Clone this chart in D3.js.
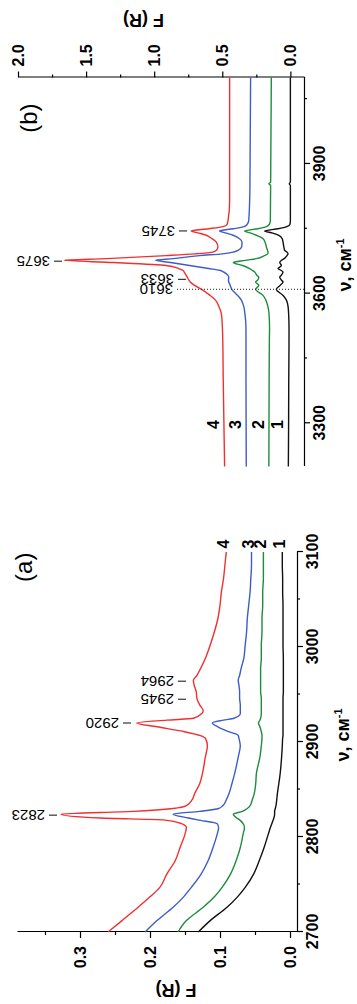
<!DOCTYPE html>
<html>
<head>
<meta charset="utf-8">
<script src="https://cdn.jsdelivr.net/npm/d3@7"></script>
<style>
body { margin: 0; background: #fff; }
svg { display: block; }
text { font-family: "Liberation Sans", Arial, sans-serif; }
</style>
</head>
<body>
<svg id="chart"></svg>
<script>
// panel (a): C-H region
const nuA = [2700, 2712, 2726, 2737, 2747, 2761, 2775, 2789, 2803, 2810, 2814, 2818, 2820, 2824, 2827, 2830,
    2833, 2839, 2846, 2856, 2867, 2884, 2896, 2904, 2907, 2911, 2916, 2920, 2923, 2925, 2930, 2933, 2939,
    2946, 2953, 2960, 2965, 2970, 2977, 2988, 3002, 3016, 3030, 3044, 3058, 3072, 3086, 3100];
const fA1 = [0.131, 0.114, 0.090, 0.075, 0.064, 0.052, 0.044, 0.037, 0.031, 0.028, 0.026, 0.024, 0.023, 0.022, 0.022, 0.021,
    0.020, 0.019, 0.018, 0.016, 0.014, 0.012, 0.011, 0.0105, 0.010, 0.010, 0.010, 0.010, 0.010, 0.010, 0.010, 0.010, 0.010,
    0.010, 0.0095, 0.0095, 0.0095, 0.0095, 0.0095, 0.0095, 0.010, 0.010, 0.010, 0.010, 0.0105, 0.0105, 0.011, 0.011];
const fA2 = [0.160, 0.148, 0.124, 0.108, 0.097, 0.085, 0.077, 0.071, 0.067, 0.065, 0.067, 0.072, 0.076, 0.081, 0.068, 0.061,
    0.057, 0.054, 0.051, 0.049, 0.048, 0.043, 0.041, 0.040, 0.040, 0.041, 0.043, 0.045, 0.043, 0.042, 0.041, 0.041, 0.041,
    0.041, 0.042, 0.042, 0.042, 0.042, 0.042, 0.041, 0.041, 0.040, 0.040, 0.039, 0.039, 0.038, 0.038, 0.038];
const fA3 = [0.207, 0.190, 0.167, 0.152, 0.141, 0.127, 0.117, 0.110, 0.104, 0.102, 0.104, 0.132, 0.145, 0.167, 0.129, 0.102,
    0.096, 0.091, 0.087, 0.083, 0.079, 0.074, 0.071, 0.073, 0.074, 0.088, 0.103, 0.111, 0.095, 0.080, 0.071, 0.071, 0.071,
    0.072, 0.072, 0.073, 0.074, 0.072, 0.070, 0.066, 0.064, 0.062, 0.061, 0.059, 0.057, 0.056, 0.055, 0.055];
const fA4 = [0.260, 0.240, 0.217, 0.200, 0.186, 0.176, 0.164, 0.157, 0.150, 0.148, 0.155, 0.181, 0.271, 0.327, 0.224, 0.167,
    0.148, 0.140, 0.136, 0.129, 0.125, 0.121, 0.118, 0.121, 0.129, 0.152, 0.190, 0.219, 0.176, 0.138, 0.126, 0.124, 0.129,
    0.133, 0.134, 0.137, 0.138, 0.133, 0.128, 0.121, 0.114, 0.108, 0.103, 0.100, 0.098, 0.095, 0.093, 0.091];

// panel (b): O-H region
const nuB = [3200, 3300, 3400, 3500, 3520, 3554, 3570, 3585, 3596, 3610, 3619, 3627, 3631, 3638, 3642, 3650, 3654, 3658,
    3665, 3672, 3677, 3681, 3688, 3692, 3696, 3700, 3708, 3719, 3727, 3735, 3740, 3745, 3750, 3755, 3760, 3769, 3815,
    3850, 3854, 3858, 3900, 4000, 4100];
const fB1 = [0.015, 0.013, 0.012, 0.010, 0.010, 0.013, 0.017, 0.029, 0.055, 0.103, 0.075, 0.054, 0.065, 0.078, 0.068, 0.054, 0.070, 0.091,
    0.066, 0.078, 0.065, 0.045, 0.025, 0.017, 0.025, 0.042, 0.048, 0.054, 0.060, 0.085, 0.130, 0.189, 0.090, 0.025, 0.003, 0.000, 0.000,
    0.000, 0.008, 0.000, 0.000, 0.000, 0.000];
const fB2 = [0.158, 0.157, 0.156, 0.154, 0.153, 0.157, 0.165, 0.180, 0.201, 0.255, 0.232, 0.255, 0.240, 0.232, 0.245, 0.262, 0.280, 0.300,
    0.350, 0.420, 0.330, 0.250, 0.190, 0.166, 0.164, 0.168, 0.176, 0.186, 0.200, 0.250, 0.290, 0.336, 0.240, 0.176, 0.155, 0.147, 0.146,
    0.145, 0.158, 0.145, 0.144, 0.142, 0.140];
const fB3 = [0.324, 0.325, 0.326, 0.326, 0.326, 0.334, 0.342, 0.360, 0.388, 0.430, 0.442, 0.452, 0.455, 0.452, 0.458, 0.490, 0.520, 0.600,
    0.740, 0.880, 0.990, 0.860, 0.667, 0.500, 0.420, 0.385, 0.358, 0.355, 0.373, 0.420, 0.470, 0.520, 0.420, 0.340, 0.318, 0.306, 0.299,
    0.297, 0.297, 0.297, 0.296, 0.294, 0.292];
const fB4 = [0.483, 0.488, 0.493, 0.497, 0.499, 0.507, 0.525, 0.550, 0.590, 0.652, 0.703, 0.735, 0.745, 0.757, 0.765, 0.780, 0.790, 0.820,
    0.912, 1.300, 1.660, 1.350, 0.912, 0.700, 0.569, 0.545, 0.532, 0.544, 0.575, 0.618, 0.670, 0.728, 0.600, 0.495, 0.465, 0.458, 0.446,
    0.446, 0.446, 0.446, 0.446, 0.446, 0.446];

const curveNames = ['1', '2', '3', '4'];
const curveColors = ['#111111', '#1e8c3c', '#3c5cc8', '#f03030'];

const xTicksA = [2700, 2800, 2900, 3000, 3100];
const xMinorA = [2750, 2850, 2950, 3050];
const yTicksA = [0.0, 0.1, 0.2, 0.3];
const yMinorA = [0.05, 0.15, 0.25, 0.35];
const xTicksB = [3300, 3600, 3900];
const xMinorB = [3450, 3750, 4050];
const yTicksB = [0.0, 0.5, 1.0, 1.5, 2.0];
const yMinorB = [0.25, 0.75, 1.25, 1.75];

const peaksA = [2823, 2920, 2945, 2964];
const peaksB = [3745, 3675, 3633];
const dottedB = 3610;

// the figure is laid out landscape (1004 x 357) and turned a quarter turn onto the page
const pageW = 357;
const pageH = 1004;
const font = '"Liberation Sans", Arial, sans-serif';

const svg = d3.select('#chart')
    .attr('width', pageW)
    .attr('height', pageH);
const g = svg.append('g')
    .attr('transform', `translate(0, ${pageH}) rotate(-90)`);

const xA = d3.scaleLinear().domain([2700, 3100]).range([72, 452]);
const yA = d3.scaleLinear().domain([-0.01, 0.39]).range([297, 17]);
const xB = d3.scaleLinear().domain([3200, 4100]).range([537.5, 926.5]);
const yB = d3.scaleLinear().domain([-0.1, 2.0]).range([304, 18]);

const styleAxis = (sel, keepDomain) => {
    sel.attr('font-family', font)
        .attr('font-size', 16)
        .attr('font-weight', 'bold');
    sel.selectAll('line').attr('stroke-width', 1.2);
    sel.select('.domain').attr('stroke-width', 1.2);
    if (!keepDomain) sel.select('.domain').remove();
};

// panel (a) axes
g.append('g')
    .attr('transform', `translate(0, ${yA.range()[0]})`)
    .call(d3.axisBottom(xA).tickValues(xTicksA).tickSize(6).tickPadding(4).tickSizeOuter(0).tickFormat(d3.format('d')))
    .call(s => styleAxis(s, true));
g.append('g')
    .attr('transform', `translate(0, ${yA.range()[0]})`)
    .call(d3.axisBottom(xA).tickValues(xMinorA).tickSize(3).tickFormat(''))
    .call(s => styleAxis(s, false));
g.append('g')
    .attr('transform', `translate(${xA.range()[0]}, 0)`)
    .call(d3.axisLeft(yA).tickValues(yTicksA).tickSize(6).tickPadding(8).tickSizeOuter(0).tickFormat(d3.format('.1f')))
    .call(s => styleAxis(s, true));
g.append('g')
    .attr('transform', `translate(${xA.range()[0]}, 0)`)
    .call(d3.axisLeft(yA).tickValues(yMinorA).tickSize(3).tickFormat(''))
    .call(s => styleAxis(s, false));

// panel (b) axes
g.append('g')
    .attr('transform', `translate(0, ${yB.range()[0]})`)
    .call(d3.axisBottom(xB).tickValues(xTicksB).tickSize(6).tickPadding(4).tickSizeOuter(0).tickFormat(d3.format('d')))
    .call(s => styleAxis(s, true));
g.append('g')
    .attr('transform', `translate(0, ${yB.range()[0]})`)
    .call(d3.axisBottom(xB).tickValues(xMinorB).tickSize(3).tickFormat(''))
    .call(s => styleAxis(s, false));
g.append('g')
    .attr('transform', `translate(${xB.range()[1]}, 0)`)
    .call(d3.axisRight(yB).tickValues(yTicksB).tickSize(6).tickPadding(5).tickSizeOuter(0).tickFormat(d3.format('.1f')))
    .call(s => styleAxis(s, true));
g.append('g')
    .attr('transform', `translate(${xB.range()[1]}, 0)`)
    .call(d3.axisRight(yB).tickValues(yMinorB).tickSize(3).tickFormat(''))
    .call(s => styleAxis(s, false));

// curves
const drawCurves = (nu, series, x, y) => {
    const line = d3.line()
        .x((d, i) => x(nu[i]))
        .y(d => y(d))
        .curve(d3.curveMonotoneX);
    g.append('g')
        .selectAll('path')
        .data(series)
        .join('path')
        .attr('fill', 'none')
        .attr('stroke', (d, i) => curveColors[i])
        .attr('stroke-width', 1.4)
        .attr('stroke-linejoin', 'round')
        .attr('d', line);
};
drawCurves(nuA, [fA1, fA2, fA3, fA4], xA, yA);
drawCurves(nuB, [fB1, fB2, fB3, fB4], xB, yB);

// curve numbers
const seriesA = [fA1, fA2, fA3, fA4];
const seriesB = [fB1, fB2, fB3, fB4];
g.append('g')
    .selectAll('text')
    .data(curveNames)
    .join('text')
    .attr('x', xA.range()[1] + 8)
    .attr('y', (d, i) => yA(seriesA[i][seriesA[i].length - 1]) - 3)
    .attr('dy', '0.35em')
    .attr('text-anchor', 'middle')
    .attr('font-size', 16)
    .attr('font-weight', 'bold')
    .text(d => d);
g.append('g')
    .selectAll('text')
    .data(curveNames)
    .join('text')
    .attr('x', xB(3297))
    .attr('y', (d, i) => yB(seriesB[i][1]) - 11)
    .attr('dy', '0.35em')
    .attr('text-anchor', 'middle')
    .attr('font-size', 16)
    .attr('font-weight', 'bold')
    .text(d => d);

// peak labels: a short dash above the peak, the number written upward above it
const peakTopA = [49, 123, 178, 178];
const peakTopB = [179, 54, 178];
const drawPeaks = (peaks, tops, x) => {
    const pg = g.append('g').selectAll('g').data(peaks).join('g');
    pg.append('line')
        .attr('x1', d => x(d)).attr('x2', d => x(d))
        .attr('y1', (d, i) => tops[i]).attr('y2', (d, i) => tops[i] + 8)
        .attr('stroke', '#222').attr('stroke-width', 1.1);
    pg.append('text')
        .attr('transform', (d, i) => `translate(${x(d)}, ${tops[i] - 4}) rotate(-90)`)
        .attr('dy', '0.35em')
        .attr('font-size', 15)
        .text(d => d);
};
drawPeaks(peaksA, peakTopA, xA);
drawPeaks(peaksB, peakTopB, xB);

g.append('line')
    .attr('x1', xB(dottedB)).attr('x2', xB(dottedB))
    .attr('y1', 177).attr('y2', yB.range()[0])
    .attr('stroke', '#222').attr('stroke-width', 1)
    .attr('stroke-dasharray', '1,2');
g.append('text')
    .attr('transform', `translate(${xB(dottedB)}, 173) rotate(-90)`)
    .attr('dy', '0.35em')
    .attr('font-size', 15)
    .text(dottedB);

// axis titles
const nuTitle = (cx, baseline) => {
    const t = g.append('text')
        .attr('x', cx)
        .attr('y', baseline)
        .attr('text-anchor', 'middle')
        .attr('font-size', 18)
        .attr('font-weight', 'bold');
    t.append('tspan').text('ν, см');
    t.append('tspan').attr('font-size', 11).attr('dy', -7).text('-1');
};
nuTitle(d3.mean(xA.range()) + 7, 349);
nuTitle(d3.mean(xB.range()) + 7, 351);

g.append('text')
    .attr('transform', 'translate(20.5, 176) rotate(-90)')
    .attr('text-anchor', 'middle')
    .attr('font-size', 18)
    .attr('font-weight', 'bold')
    .text('F (R)');
g.append('text')
    .attr('transform', 'translate(990, 143.5) rotate(-90)')
    .attr('text-anchor', 'middle')
    .attr('font-size', 18)
    .attr('font-weight', 'bold')
    .text('F (R)');

// panel letters
g.append('text')
    .attr('x', xA(3084)).attr('y', 32)
    .attr('text-anchor', 'middle')
    .attr('font-size', 24)
    .text('(a)');
g.append('text')
    .attr('x', xB(4006)).attr('y', 37)
    .attr('text-anchor', 'middle')
    .attr('font-size', 24)
    .text('(b)');
</script>
</body>
</html>
